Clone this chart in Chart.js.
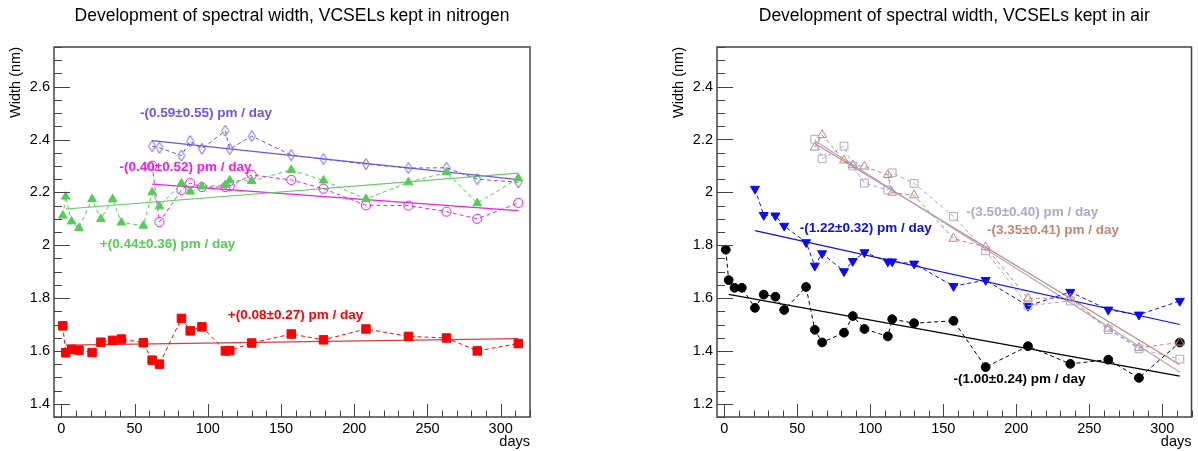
<!DOCTYPE html>
<html>
<head>
<meta charset="utf-8">
<script src="https://cdn.jsdelivr.net/npm/chart.js@4.4.0/dist/chart.umd.min.js"></script>
<style>
    html, body { margin: 0; padding: 0; background: #fff; }
    #wrap { position: relative; width: 1198px; height: 451px; overflow: hidden; }
    .panel { position: absolute; top: 0; }
</style>
</head>
<body>
<div id="wrap">
    <canvas id="nitroChart" class="panel" style="left:0" width="600" height="451"></canvas>
    <canvas id="airChart" class="panel" style="left:600px" width="598" height="451"></canvas>
</div>

<script>
// Measurement days
const daysAll = [1, 3, 7, 12, 21, 27, 35, 41, 56, 62, 67, 82, 88, 96, 112, 115, 130, 157, 179, 208, 237, 263, 284, 312];
const daysLate = [62, 67, 82, 88, 96, 112, 115, 130, 157, 179, 208, 237, 263, 284, 312];
const daysBlue = [21, 27, 35, 41, 56, 62, 67, 82, 88, 96, 112, 115, 130, 157, 179, 208, 237, 263, 284, 312];

// Kept in nitrogen (nm)
const nitroRed = [1.695, 1.593, 1.606, 1.603, 1.594, 1.633, 1.640, 1.645, 1.631, 1.565, 1.550, 1.723, 1.676, 1.691, 1.600, 1.601, 1.630, 1.664, 1.642, 1.683, 1.655, 1.649, 1.600, 1.628];
const nitroGreen = [2.112, 2.184, 2.090, 2.065, 2.174, 2.099, 2.174, 2.086, 2.074, 2.200, 2.147, 2.234, 2.203, 2.222, 2.228, 2.245, 2.243, 2.285, 2.245, 2.175, 2.238, 2.276, 2.159, 2.253];
const nitroMagenta = [2.301, 2.088, 2.209, 2.235, 2.220, 2.220, 2.224, 2.266, 2.247, 2.214, 2.151, 2.150, 2.127, 2.100, 2.160];
const nitroViolet = [2.375, 2.369, 2.339, 2.394, 2.365, 2.433, 2.364, 2.413, 2.341, 2.326, 2.307, 2.292, 2.293, 2.250, 2.238];

// Kept in air (nm)
const airBlack = [1.783, 1.668, 1.639, 1.639, 1.563, 1.613, 1.605, 1.555, 1.642, 1.480, 1.432, 1.469, 1.532, 1.483, 1.455, 1.520, 1.505, 1.514, 1.339, 1.418, 1.351, 1.367, 1.298, 1.432];
const airBlue = [2.013, 1.914, 1.912, 1.873, 1.811, 1.722, 1.769, 1.701, 1.740, 1.773, 1.738, 1.738, 1.730, 1.645, 1.668, 1.570, 1.623, 1.556, 1.537, 1.589];
const airGray = [2.201, 2.127, 2.175, 2.100, 2.035, 2.009, 2.074, 2.034, 1.909, 1.779, 1.571, 1.589, 1.481, 1.408, 1.369];
const airRosy = [2.170, 2.217, 2.121, 2.103, 2.098, 2.066, 1.999, 1.989, 1.825, 1.793, 1.599, 1.599, 1.485, 1.412, 1.432];

// Linear fits: slope (pm/day), value at first fit day (nm), fit range (days)
const fitSlopesN = [0.08, 0.44, -0.40, -0.59];
const fitStartN = [1.622, 2.137, 2.231, 2.396];
const fitFromN = [3, 3, 62, 62];
const fitSlopesA = [-1.00, -1.22, -3.50, -3.35];
const fitStartA = [1.614, 1.855, 2.195, 2.185];
const fitFromA = [3, 21, 62, 62];
const fitTo = 312;

// Tick labels
const xTicks = [0, 50, 100, 150, 200, 250, 300];
const yTicksN = [1.4, 1.6, 1.8, 2.0, 2.2, 2.4, 2.6];
const yTicksA = [1.2, 1.4, 1.6, 1.8, 2.0, 2.2, 2.4];

Chart.defaults.font.family = '"Liberation Sans", Arial, Helvetica, sans-serif';
Chart.defaults.color = '#000';

// open diamond marker, narrower than it is tall
function diamondImg(color) {
    const c = document.createElement('canvas');
    c.width = 10; c.height = 13;
    const g = c.getContext('2d');
    g.strokeStyle = color; g.lineWidth = 1;
    g.beginPath();
    g.moveTo(5, 1); g.lineTo(8.5, 6.5); g.lineTo(5, 12); g.lineTo(1.5, 6.5); g.closePath();
    g.stroke();
    return c;
}

function series(days, vals, color, style, extra) {
    return Object.assign({
        data: days.map((d, i) => ({ x: d, y: vals[i] })),
        borderColor: color,
        borderWidth: 1,
        borderDash: [4, 3],
        pointStyle: style,
        pointBackgroundColor: color,
        pointBorderColor: color,
        pointBorderWidth: 1,
        pointRadius: 4,
        tension: 0
    }, extra || {});
}

function fitLine(slope, start, from, color) {
    const b = slope / 1000;
    return {
        data: [{ x: from, y: start }, { x: fitTo, y: start + b * (fitTo - from) }],
        borderColor: color,
        borderWidth: 1.2,
        pointRadius: 0,
        tension: 0
    };
}

// ROOT-like frame, inner ticks and slope labels
const rootFrame = {
    id: 'rootFrame',
    afterDraw(chart, args, opts) {
        const { ctx, chartArea: a, scales: { x, y } } = chart;
        ctx.save();
        ctx.strokeStyle = '#444';
        ctx.lineWidth = 1;
        ctx.beginPath();
        for (let v = 0; v <= 320; v += 10) {
            const px = Math.round(x.getPixelForValue(v)) + 0.5;
            const len = v % 50 === 0 ? 13 : 6.5;
            ctx.moveTo(px, a.bottom);
            ctx.lineTo(px, a.bottom - len);
        }
        for (let k = Math.ceil(y.min * 20); k <= Math.floor(y.max * 20); k++) {
            const py = Math.round(y.getPixelForValue(k / 20)) + 0.5;
            const len = k % 4 === 0 ? 16 : 8;
            ctx.moveTo(a.left, py);
            ctx.lineTo(a.left + len, py);
        }
        ctx.stroke();
        ctx.lineWidth = 1.5;
        ctx.strokeRect(a.left, a.top, a.right - a.left, a.bottom - a.top);

        ctx.font = 'bold 13.5px "Liberation Sans", Arial, sans-serif';
        ctx.textBaseline = 'middle';
        ctx.textAlign = 'left';
        (opts.notes || []).forEach(n => {
            ctx.fillStyle = n.color;
            ctx.fillText(n.text, x.getPixelForValue(n.day), y.getPixelForValue(n.w));
        });
        ctx.restore();
    }
};

function makeChart(id, cfg) {
    return new Chart(document.getElementById(id), {
        type: 'line',
        data: { datasets: cfg.datasets },
        options: {
            responsive: false,
            animation: false,
            layout: { padding: { left: 0, right: cfg.padRight, top: 0, bottom: 0 } },
            plugins: {
                legend: { display: false },
                tooltip: { enabled: false },
                title: {
                    display: true,
                    text: cfg.title,
                    fullSize: false,
                    color: '#000',
                    font: { size: 17.5, weight: 'normal' },
                    padding: { top: 6, bottom: 20 }
                },
                rootFrame: { notes: cfg.notes }
            },
            scales: {
                x: {
                    type: 'linear', min: -5, max: 320,
                    grid: { display: false, drawTicks: false },
                    border: { display: false },
                    ticks: { font: { size: 14.5 }, padding: 3, maxRotation: 0, autoSkip: false },
                    afterBuildTicks: s => { s.ticks = xTicks.map(v => ({ value: v })); },
                    title: { display: true, text: 'days', align: 'end', font: { size: 14.5 }, padding: { top: 0, bottom: 0 } },
                    afterFit: s => { s.height = 34; }
                },
                y: {
                    type: 'linear', min: cfg.ymin, max: cfg.ymax,
                    grid: { display: false, drawTicks: false },
                    border: { display: false },
                    ticks: { font: { size: 14.5 }, padding: 4, callback: v => String(+v.toFixed(2)) },
                    afterBuildTicks: s => { s.ticks = cfg.yTicks.map(v => ({ value: v })); },
                    title: { display: true, text: 'Width (nm)', align: 'end', font: { size: 14.5 }, padding: { top: cfg.yTitlePad, bottom: 0 } },
                    afterFit: s => { s.width = cfg.yAxisW; }
                }
            }
        },
        plugins: [rootFrame]
    });
}

const cRed = '#ff0000', cGreen = '#55cc55', cMag = '#f01cf0', cVio = '#6a55e8';
const cBlack = '#000000', cBlue = '#0a0af5', cGray = '#a9a9cc', cRosy = '#c28575';

makeChart('nitroChart', {
    title: 'Development of spectral width, VCSELs kept in nitrogen',
    ymin: 1.35, ymax: 2.75, yTicks: yTicksN,
    yAxisW: 54, padRight: 70, yTitlePad: 7,
    datasets: [
        series(daysAll, nitroGreen, cGreen, 'triangle', { pointRadius: 5 }),
        series(daysLate, nitroMagenta, cMag, 'circle', { pointRadius: 4.6, pointBackgroundColor: 'rgba(0,0,0,0)' }),
        series(daysLate, nitroViolet, cVio, diamondImg(cVio)),
        series(daysAll, nitroRed, cRed, 'rect', { pointRadius: 6 }),
        fitLine(fitSlopesN[0], fitStartN[0], fitFromN[0], '#e23b3b'),
        fitLine(fitSlopesN[1], fitStartN[1], fitFromN[1], '#66cc66'),
        fitLine(fitSlopesN[2], fitStartN[2], fitFromN[2], cMag),
        fitLine(fitSlopesN[3], fitStartN[3], fitFromN[3], cVio)
    ],
    notes: [
        { text: '-(0.59\u00b10.55) pm / day', color: cVio, day: 53.7, w: 2.498 },
        { text: '-(0.40\u00b10.52) pm / day', color: cMag, day: 39.7, w: 2.293 },
        { text: '+(0.44\u00b10.36) pm / day', color: cGreen, day: 26.3, w: 2.003 },
        { text: '+(0.08\u00b10.27) pm / day', color: cRed, day: 113.7, w: 1.733 }
    ]
});

makeChart('airChart', {
    title: 'Development of spectral width, VCSELs kept in air',
    ymin: 1.15, ymax: 2.55, yTicks: yTicksA,
    yAxisW: 117, padRight: 3, yTitlePad: 70,
    datasets: [
        series(daysLate, airGray, cGray, 'rect', { pointRadius: 5.5, pointBackgroundColor: 'rgba(0,0,0,0)' }),
        series(daysLate, airRosy, cRosy, 'triangle', { pointRadius: 5.2, pointBackgroundColor: 'rgba(0,0,0,0)' }),
        series(daysBlue, airBlue, cBlue, 'triangle', { pointRadius: 5.2, pointRotation: 180 }),
        series(daysAll, airBlack, cBlack, 'circle', { pointRadius: 4.4 }),
        fitLine(fitSlopesA[0], fitStartA[0], fitFromA[0], cBlack),
        fitLine(fitSlopesA[1], fitStartA[1], fitFromA[1], cBlue),
        fitLine(fitSlopesA[2], fitStartA[2], fitFromA[2], cGray),
        fitLine(fitSlopesA[3], fitStartA[3], fitFromA[3], cRosy)
    ],
    notes: [
        { text: '-(1.22\u00b10.32) pm / day', color: cBlue, day: 51.7, w: 1.865 },
        { text: '-(3.50\u00b10.40) pm / day', color: cGray, day: 165.8, w: 1.925 },
        { text: '-(3.35\u00b10.41) pm / day', color: cRosy, day: 179.9, w: 1.856 },
        { text: '-(1.00\u00b10.24) pm / day', color: cBlack, day: 157, w: 1.294 }
    ]
});
</script>
</body>
</html>
